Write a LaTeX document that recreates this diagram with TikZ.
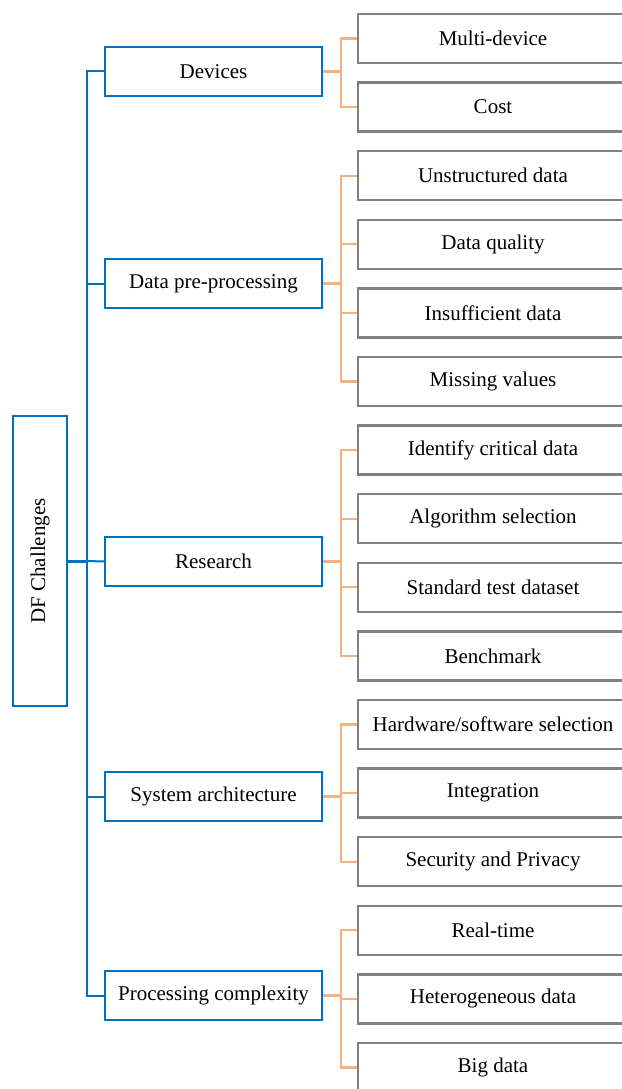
\documentclass[tikz,border=0pt]{standalone}
\usepackage{fontspec}
\setmainfont{Liberation Serif}
\usepackage{tikz}
\definecolor{dfblue}{RGB}{0,112,192}
\definecolor{dforange}{RGB}{244,177,131}
\definecolor{dfgray}{RGB}{128,128,128}

\begin{document}
\begin{tikzpicture}[x=1pt, y=-1pt,
        font=\fontsize{21}{25}\selectfont,
        rootbox/.style={rectangle, draw=dfblue, line width=2pt, minimum width=290pt, minimum height=54pt, rotate=90, text centered},
        topic/.style={rectangle, draw=dfblue, line width=2pt, minimum width=217pt, minimum height=49pt, text centered},
        item/.style={rectangle, draw=dfgray, line width=2.5pt, minimum width=270pt, minimum height=49pt, text centered},
        main/.style={draw=dfblue, line width=2pt},
        sub/.style={draw=dforange, line width=2.2pt}
    ]
    \useasboundingbox (0,0) rectangle (621,1089);

    % 根节点
    \node[rootbox] (root) at (40,561) {DF Challenges};
    \coordinate (trunk) at (87,561);

    % 一级节点
    \node[topic] (devices) at (213.5,71.5) {Devices};
    \node[topic] (preproc) at (213.5,283.5) {Data pre-processing};
    \node[topic] (research) at (213.5,561.5) {Research};
    \node[topic] (sysarch) at (213.5,796.5) {System architecture};
    \node[topic] (complexity) at (213.5,995.5) {Processing complexity};

    % 二级节点
    \node[item] (multi) at (493,38.5) {Multi-device};
    \node[item] (cost) at (493,107.1) {Cost};
    \node[item] (unstructured) at (493,175.7) {Unstructured data};
    \node[item] (quality) at (493,244.3) {Data quality};
    \node[item] (insufficient) at (493,312.9) {Insufficient data};
    \node[item] (missing) at (493,381.5) {Missing values};
    \node[item] (critical) at (493,450.1) {Identify critical\ data};
    \node[item] (algorithm) at (493,518.7) {Algorithm selection};
    \node[item] (testset) at (493,587.3) {Standard test dataset};
    \node[item] (benchmark) at (493,655.9) {Benchmark};
    \node[item] (hardware) at (493,724.5) {Hardware/software selection};
    \node[item] (integration) at (493,793.1) {Integration};
    \node[item] (security) at (493,861.7) {Security and Privacy};
    \node[item] (realtime) at (493,930.3) {Real-time};
    \node[item] (hetero) at (493,998.9) {Heterogeneous data};
    \node[item] (bigdata) at (493,1067.5) {Big data};

    % 连接
    \draw[main, line width=3pt] (root.south) -- (trunk);
    \draw[main] (trunk) |- (devices.west);
    \draw[main] (trunk) |- (preproc.west);
    \draw[main] (trunk) -- (research.west);
    \draw[main] (trunk) |- (sysarch.west);
    \draw[main] (trunk) |- (complexity.west);

    \draw[sub] (devices.east) -- ++(18,0) |- (multi.west);
    \draw[sub] (devices.east) -- ++(18,0) |- (cost.west);
    \draw[sub] (preproc.east) -- ++(18,0) |- (unstructured.west);
    \draw[sub] (preproc.east) -- ++(18,0) |- (quality.west);
    \draw[sub] (preproc.east) -- ++(18,0) |- (insufficient.west);
    \draw[sub] (preproc.east) -- ++(18,0) |- (missing.west);
    \draw[sub] (research.east) -- ++(18,0) |- (critical.west);
    \draw[sub] (research.east) -- ++(18,0) |- (algorithm.west);
    \draw[sub] (research.east) -- ++(18,0) |- (testset.west);
    \draw[sub] (research.east) -- ++(18,0) |- (benchmark.west);
    \draw[sub] (sysarch.east) -- ++(18,0) |- (hardware.west);
    \draw[sub] (sysarch.east) -- ++(18,0) |- (integration.west);
    \draw[sub] (sysarch.east) -- ++(18,0) |- (security.west);
    \draw[sub] (complexity.east) -- ++(18,0) |- (realtime.west);
    \draw[sub] (complexity.east) -- ++(18,0) |- (hetero.west);
    \draw[sub] (complexity.east) -- ++(18,0) |- (bigdata.west);

\end{tikzpicture}
\end{document}
